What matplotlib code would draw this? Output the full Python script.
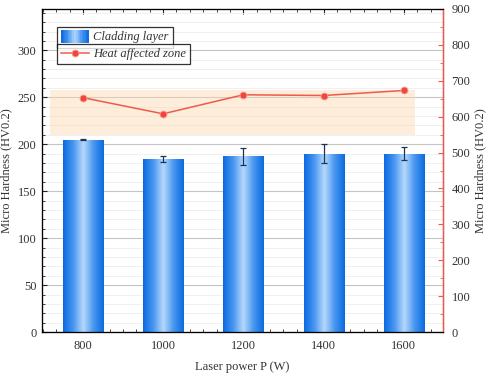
import numpy as np
import matplotlib
matplotlib.use('Agg')
import matplotlib.pyplot as plt
from matplotlib.colors import LinearSegmentedColormap
from matplotlib.patches import Rectangle
from matplotlib.legend_handler import HandlerBase
from matplotlib.lines import Line2D
from matplotlib.ticker import MultipleLocator

plt.rcParams['font.family'] = ['Liberation Serif', 'DejaVu Serif']

# data
power = [800, 1000, 1200, 1400, 1600]
cladding = [205, 184, 187, 190, 190]
cladding_err = [1, 3, 9, 10, 7]
haz = [653, 608, 661, 659, 673]
band_low, band_high = 210, 258      # shaded range, left-axis units
band_x = [718, 1628]

blue_cmap = LinearSegmentedColormap.from_list(
    'barblue', ['#0a6ae0', '#4896f0', '#b6d8fc', '#4896f0', '#0a6ae0'])
red = '#ee5a4c'
txt = '#333333'


class GradientHandler(HandlerBase):
    def create_artists(self, legend, orig_handle, xdescent, ydescent,
                       width, height, fontsize, trans):
        n = 20
        arts = []
        for i in range(n):
            c = blue_cmap((i + 0.5) / n)
            r = Rectangle((-xdescent + width * i / n, -ydescent - 1.5), width / n + 0.3, height + 3,
                          facecolor=c, edgecolor='none', transform=trans)
            arts.append(r)
        return arts


fig = plt.figure(figsize=(4.91, 3.74), dpi=100)
ax = fig.add_axes([0.0855, 0.112, 0.817, 0.864])

# grid
ax.yaxis.set_major_locator(MultipleLocator(50))
ax.yaxis.set_minor_locator(MultipleLocator(10))
ax.grid(which='major', axis='y', color='#c4c4c4', lw=0.8, zorder=0)
ax.grid(which='minor', axis='y', color='#eeeeee', lw=0.6, zorder=0)
ax.set_axisbelow(True)

ax.fill_between(band_x, band_low, band_high, color='#fbd9ae', alpha=0.45, lw=0, zorder=1)

bars = ax.bar(power, cladding, width=100, facecolor='none', edgecolor='none', zorder=2)
grad = np.linspace(0, 1, 256).reshape(1, -1)
for b in bars:
    x0, w, h = b.get_x(), b.get_width(), b.get_height()
    im = ax.imshow(grad, extent=[x0, x0 + w, 0, h], aspect='auto', cmap=blue_cmap,
                   zorder=2, interpolation='bilinear')
    im.set_clip_path(b)
ax.errorbar(power, cladding, yerr=cladding_err, fmt='none', ecolor='#1d3352',
            elinewidth=0.9, capsize=2, capthick=0.9, zorder=3)

ax.set_xlim(698, 1698)
ax.set_ylim(0, 344)
ax.set_xticks(power)
ax.xaxis.set_minor_locator(MultipleLocator(200 / 6))
ax.tick_params(which='both', direction='in', top=True, labelsize=9, colors='#222222',
               labelcolor=txt)
ax.tick_params(which='major', length=3.5, width=0.8)
ax.tick_params(which='minor', length=2, width=0.6)
ax.tick_params(axis='x', pad=6)
ax.tick_params(axis='y', pad=4)
ax.set_xlabel('Laser power P (W)', fontsize=9, color=txt, labelpad=6)
ax.set_ylabel('Micro Hardness (HV0.2)', fontsize=9, color=txt, labelpad=4)
for s in ['left', 'bottom', 'top']:
    ax.spines[s].set_color('#222222')
    ax.spines[s].set_linewidth(0.9)

ax2 = ax.twinx()
ax2.plot(power, haz, color=red, lw=1.1, marker='o', ms=5, mfc='#f2453a',
         mec='#f7a59c', mew=0.6, zorder=4)
ax2.set_ylim(0, 900)
ax2.yaxis.set_major_locator(MultipleLocator(100))
ax2.yaxis.set_minor_locator(MultipleLocator(50))
ax2.tick_params(which='both', direction='in', colors=red, labelcolor=txt, labelsize=9, pad=6)
ax2.tick_params(which='major', length=3.5, width=0.8)
ax2.tick_params(which='minor', length=2, width=0.6)
ax2.set_ylabel('Micro Hardness (HV0.2)', fontsize=9, color=txt, labelpad=3)
ax2.spines['right'].set_color(red)
ax2.spines['right'].set_linewidth(1.0)

# two stacked legends, one per axis
leg_kw = dict(loc='upper left', prop={'style': 'italic', 'size': 9}, frameon=True,
              fancybox=False, edgecolor='black', borderpad=0.35, handlelength=2.2,
              handletextpad=0.35, borderaxespad=0)
bar_handle = Rectangle((0, 0), 1, 1)
leg1 = ax2.legend([bar_handle], ['Cladding layer'], handler_map={Rectangle: GradientHandler()},
                  bbox_to_anchor=(0.037, 0.944), **leg_kw)
leg1.get_frame().set_linewidth(0.9)
ax2.add_artist(leg1)
line_handle = Line2D([], [], color=red, lw=1.1, marker='o', ms=5, mfc='#f2453a',
                     mec='#f7a59c', mew=0.6)
leg2 = ax2.legend([line_handle], ['Heat affected zone'], bbox_to_anchor=(0.037, 0.893), **leg_kw)
leg2.get_frame().set_linewidth(0.9)
for lg in (leg1, leg2):
    for t in lg.get_texts():
        t.set_color(txt)

fig.savefig('out.png', dpi=100)
